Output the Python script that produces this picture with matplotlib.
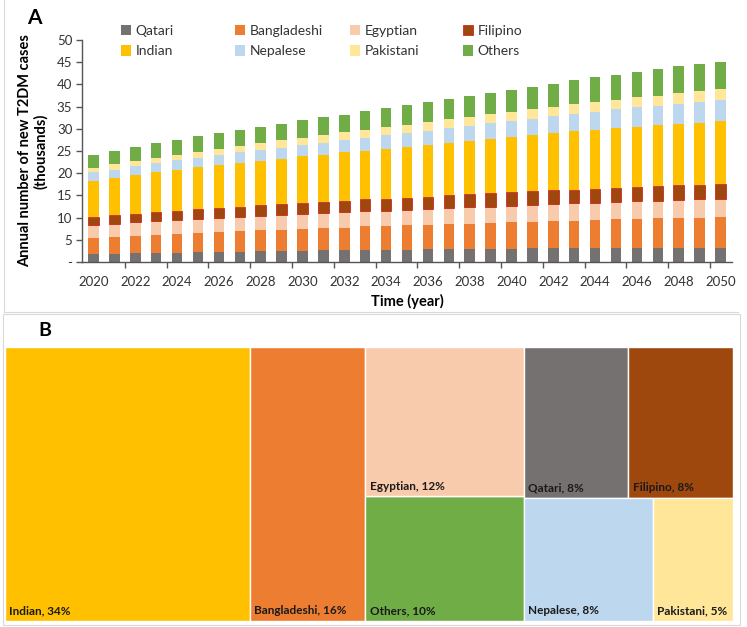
import matplotlib
matplotlib.use("Agg")
import matplotlib.pyplot as plt
from matplotlib.patches import Rectangle
from matplotlib.lines import Line2D
import numpy as np

plt.rcParams['font.family'] = ['Lato', 'DejaVu Sans']

years = list(range(2020, 2051))

qatari = [1.7, 1.9, 1.95, 1.95, 2.0, 2.2, 2.2, 2.25, 2.4, 2.4, 2.5, 2.6, 2.6, 2.7, 2.7, 2.8,
          2.85, 2.85, 2.9, 2.9, 3.0, 3.1, 3.1, 3.15, 3.15, 3.15, 3.15, 3.2, 3.2, 3.2, 3.2]
bangladeshi = [3.8, 3.8, 3.95, 4.15, 4.3, 4.3, 4.5, 4.65, 4.7, 4.9, 4.9, 5.0, 5.1, 5.3, 5.3, 5.5,
               5.45, 5.75, 5.7, 5.9, 5.9, 6.0, 6.1, 6.15, 6.35, 6.45, 6.55, 6.6, 6.7, 6.8, 6.9]
egyptian = [2.8, 2.9, 3.0, 3.1, 3.1, 3.2, 3.1, 3.3, 3.3, 3.3, 3.4, 3.4, 3.5, 3.4, 3.5, 3.5,
            3.7, 3.5, 3.7, 3.7, 3.7, 3.8, 3.9, 3.9, 3.9, 3.9, 4.0, 4.0, 4.0, 4.1, 4.0]
filipino = [1.8, 1.9, 2.0, 2.0, 2.1, 2.2, 2.4, 2.3, 2.4, 2.4, 2.5, 2.5, 2.6, 2.7, 2.8, 2.7,
            2.7, 2.9, 3.0, 3.0, 3.1, 3.0, 3.1, 3.1, 3.1, 3.2, 3.2, 3.3, 3.4, 3.3, 3.5]
indian = [8.1, 8.4, 8.6, 9.0, 9.3, 9.4, 9.6, 9.8, 10.0, 10.2, 10.5, 10.7, 10.9, 11.0, 11.2, 11.4,
          11.7, 11.8, 12.0, 12.2, 12.4, 12.7, 12.8, 13.1, 13.3, 13.5, 13.6, 13.7, 13.8, 14.0, 14.1]
nepalese = [2.0, 1.9, 2.1, 2.0, 2.1, 2.2, 2.3, 2.4, 2.5, 2.5, 2.6, 2.7, 2.7, 2.9, 3.0, 3.1,
            3.1, 3.4, 3.4, 3.5, 3.6, 3.7, 3.8, 3.9, 4.0, 4.2, 4.3, 4.4, 4.5, 4.7, 4.8]
pakistani = [1.0, 1.2, 1.1, 1.2, 1.2, 1.3, 1.3, 1.4, 1.5, 1.7, 1.6, 1.7, 1.8, 1.8, 1.9, 1.9,
             2.0, 1.9, 2.0, 2.1, 2.1, 2.1, 2.2, 2.2, 2.2, 2.1, 2.3, 2.3, 2.4, 2.4, 2.4]
others = [3.0, 3.1, 3.3, 3.3, 3.4, 3.5, 3.6, 3.7, 3.7, 3.7, 3.9, 4.0, 4.0, 4.2, 4.2, 4.4,
          4.5, 4.7, 4.7, 4.8, 5.0, 5.1, 5.2, 5.4, 5.6, 5.7, 5.8, 6.0, 6.1, 6.2, 6.2]

series_names = ["Qatari", "Bangladeshi", "Egyptian", "Filipino",
                "Indian", "Nepalese", "Pakistani", "Others"]
series_values = [qatari, bangladeshi, egyptian, filipino, indian, nepalese, pakistani, others]
colors = {"Qatari": "#767171", "Bangladeshi": "#ED7D31", "Egyptian": "#F8CBAD",
          "Filipino": "#9E480E", "Indian": "#FFC000", "Nepalese": "#BDD7EE",
          "Pakistani": "#FFE699", "Others": "#70AD47"}
edges = {"Filipino": "#D01010"}

yticks = [0, 5, 10, 15, 20, 25, 30, 35, 40, 45, 50]
ytick_labels = ["-", "5", "10", "15", "20", "25", "30", "35", "40", "45", "50"]
xtick_years = list(range(2020, 2051, 2))

# Treemap data (share %)
tm_names = ["Indian", "Bangladeshi", "Egyptian", "Others", "Qatari", "Filipino", "Nepalese", "Pakistani"]
tm_shares = [34, 16, 12, 10, 8, 8, 8, 5]

W, H = 747, 627
fig = plt.figure(figsize=(W / 100, H / 100), dpi=100)

def fx(px):
    return px / W

def fy(py):
    return 1 - py / H

# ---------- Panel A ----------
axA = fig.add_axes([fx(82), fy(262), fx(732) - fx(82), fy(40) - fy(262)])
bottom = np.zeros(len(years))
for name, vals in zip(series_names, series_values):
    v = np.array(vals)
    ec = edges.get(name, "none")
    lw = 0.5 if name in edges else 0
    axA.bar(years, v, bottom=bottom, width=0.5, color=colors[name],
            edgecolor=ec, linewidth=lw, label=name)
    bottom += v

axA.set_xlim(2019.45, 2050.55)
axA.set_ylim(0, 50)
axA.set_yticks(yticks)
axA.set_yticklabels(ytick_labels, fontsize=9.5, color="#333333")
axA.set_xticks(xtick_years)
axA.set_xticklabels([str(y) for y in xtick_years], fontsize=9.5, color="#333333")
axA.tick_params(axis='x', which='major', length=0, pad=10)
axA.set_xticks(np.arange(2021.5, 2050, 2), minor=True)
axA.tick_params(axis='x', which='minor', length=4, width=1, color="#555555", direction='out')
axA.tick_params(axis='y', length=4, width=1, color="#555555", direction='out', pad=3)
for s in ['top', 'right']:
    axA.spines[s].set_visible(False)
for s in ['left', 'bottom']:
    axA.spines[s].set_color("#555555")
    axA.spines[s].set_linewidth(1)

axA.set_xlabel("Time (year)", fontsize=10.5, fontweight='bold', labelpad=4)
axA.set_ylabel("Annual number of new T2DM cases\n(thousands)", fontsize=10.5,
               fontweight='bold', labelpad=6, linespacing=1.2)

fig.text(fx(27), fy(18), "A", fontsize=15, fontweight='bold', va='center', ha='left')

# Legend: 4 columns with uniform spacing
col_x = [121, 235, 350, 463]
legend_cols = [["Qatari", "Indian"], ["Bangladeshi", "Nepalese"],
               ["Egyptian", "Pakistani"], ["Filipino", "Others"]]
for x0, names in zip(col_x, legend_cols):
    hs = [Rectangle((0, 0), 1, 1, facecolor=colors[n], edgecolor=edges.get(n, "none"),
                    linewidth=0.5 if n in edges else 0) for n in names]
    leg = fig.legend(hs, names, loc='upper left', bbox_to_anchor=(fx(x0), fy(25)),
                     frameon=False, fontsize=10, handlelength=0.75, handleheight=0.75,
                     handletextpad=0.3, labelspacing=0.6, borderaxespad=0, borderpad=0)
    for t in leg.get_texts():
        t.set_color("#333333")

# ---------- Panel B ----------
axB = fig.add_axes([fx(5), fy(621), fx(733) - fx(5), fy(347) - fy(621)])
axB.set_xlim(0, 1)
axB.set_ylim(0, 1)
axB.axis('off')

share = dict(zip(tm_names, tm_shares))
total = float(sum(tm_shares))

def draw_rect(name, x, y, w, h):
    axB.add_patch(Rectangle((x, y), w, h, facecolor=colors[name], edgecolor='white', linewidth=1))
    axB.text(x + 0.006, y + 0.018, f"{name}, {share[name]}%", fontsize=8.5, fontweight='bold',
             color='#1a1a1a', ha='left', va='bottom')

x = 0.0
w = share["Indian"] / total
draw_rect("Indian", x, 0, w, 1)
x += w
w = share["Bangladeshi"] / total
draw_rect("Bangladeshi", x, 0, w, 1)
x += w
grp = share["Egyptian"] + share["Others"]
w = grp / total
hE = share["Egyptian"] / grp
draw_rect("Others", x, 0, w, 1 - hE)
draw_rect("Egyptian", x, 1 - hE, w, hE)
x += w
top = share["Qatari"] + share["Filipino"]
bot = share["Nepalese"] + share["Pakistani"]
w = 1 - x
hT = top / (top + bot)
wq = w * share["Qatari"] / top
draw_rect("Qatari", x, 1 - hT, wq, hT)
draw_rect("Filipino", x + wq, 1 - hT, w - wq, hT)
wn = w * share["Nepalese"] / bot
draw_rect("Nepalese", x, 0, wn, 1 - hT)
draw_rect("Pakistani", x + wn, 0, w - wn, 1 - hT)

fig.text(fx(38), fy(331), "B", fontsize=14, fontweight='bold', va='center', ha='left')

# faint panel frames
frame_c = "#d9d9d9"
fig.add_artist(Line2D([fx(4), fx(4)], [fy(0), fy(312)], color=frame_c, lw=0.8))
fig.add_artist(Line2D([fx(4), fx(738)], [fy(312), fy(312)], color=frame_c, lw=0.8))
fig.add_artist(Rectangle((fx(3), fy(625)), fx(740) - fx(3), fy(314) - fy(625),
                         fill=False, edgecolor=frame_c, lw=0.8))

fig.savefig("out.png", dpi=100)
